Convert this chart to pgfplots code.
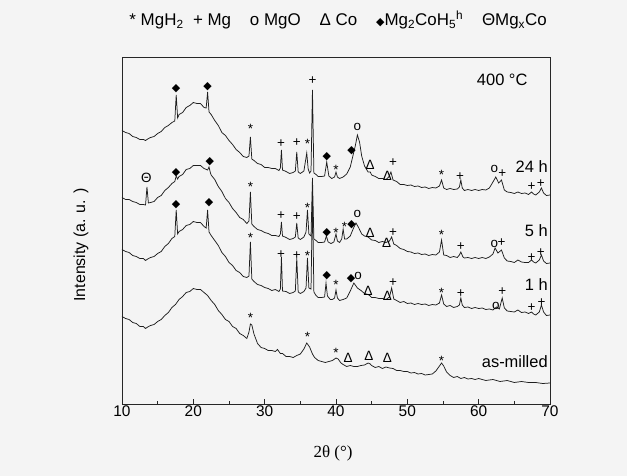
\documentclass[border=0pt]{standalone}
\usepackage{fontspec}
\setmainfont{Liberation Sans}
\newfontfamily\dejavu{DejaVu Sans}
\newfontfamily\serifx{Liberation Serif}
\usepackage{pgfplots}
\pgfplotsset{compat=1.18}
\definecolor{bg}{HTML}{F4F4F4}
\definecolor{ln}{HTML}{1E1E1E}
\newcommand\Dm{{\dejavu\fontsize{11}{11}\selectfont ◆}}
\begin{document}
\begin{tikzpicture}
\fill[bg] (-122bp,-72bp) rectangle (505bp,404bp);
\begin{axis}[
 scale only axis, width=428bp, height=347bp,
 xmin=10, xmax=70, ymin=0, ymax=347,
 axis line style={line width=0.9pt, color=black!85},
 xtick={10,20,...,70}, minor xtick={15,25,...,65},
 ytick=\empty, xtick pos=lower, tick align=inside,
 major tick length=5bp, minor tick length=3.5bp,
 every tick/.style={line width=0.9pt, black!85},
 clip=false,
 /pgf/number format/assume math mode=true,
 xticklabel style={font=\fontsize{15.5}{15.5}\selectfont, yshift=-2bp},
 xlabel={\serifx\fontsize{17}{17}\selectfont 2θ (°)},
 xlabel style={at={(axis description cs:0.493,-0.141)}, anchor=center},
 ylabel={\fontsize{16}{16}\selectfont Intensity (a. u. )},
 ylabel style={at={(axis description cs:-0.096,0.458)}, anchor=center, rotate=0},
 nodes={inner sep=0pt},
]
% as-milled
\addplot[ln, no markers, line width=0.75pt] coordinates {(10,87.5)(10.5,85.5)(11,84.5)(11.5,81.5)(12,80.5)(12.5,77.5)(13,77.5)(13.3,75.5)(13.6,77)(14,78.5)(14.5,79.5)(15,82.5)(15.5,84.5)(16,88.5)(16.5,91.5)(17,96.5)(17.5,99.5)(18,104.5)(18.5,107.5)(19,111.5)(19.5,112.5)(20,115.5)(20.5,114.5)(21,114.5)(21.5,111.5)(22,108.5)(22.5,103.5)(23,99.5)(23.5,93.5)(24,89.5)(24.5,84.5)(25,82.5)(25.5,77.5)(26,75.5)(26.5,70.5)(27,68.5)(27.5,65.5)(27.8,72)(28,80)(28.2,79)(28.5,70)(29,60.5)(29.5,56.5)(30,55.5)(30.5,53.5)(31,53.5)(31.5,52.5)(31.8,54.5)(32.2,50.5)(32.5,50.5)(33,47.5)(33.5,47.5)(34,46.5)(34.5,48.5)(35,50)(35.5,55)(35.9,61)(36.3,57)(36.7,50)(37,46.5)(37.5,43.5)(38,42.5)(38.5,41.5)(39,42.5)(39.5,43.5)(40,46)(40.3,45)(40.7,41)(41,39.5)(41.5,37.5)(42,38.5)(42.5,37.5)(43,37.5)(43.5,38.5)(44,39)(44.5,41)(44.8,40)(45,38.5)(45.5,36.5)(46,37.5)(46.5,35.5)(47,37)(47.5,36)(48,35.5)(48.5,33.5)(49,33.5)(49.5,32.5)(50,32.5)(50.5,31)(51,31.5)(51.5,30)(52,30.5)(52.5,29)(53,29.5)(53.5,30)(54,33)(54.5,38)(54.8,41)(55.1,38)(55.5,32)(56,28.5)(56.5,26.5)(57,27.5)(57.5,25.5)(58,26.5)(58.5,25)(59,25.5)(59.5,24.5)(60,25.5)(61,23.5)(62,24.5)(63,22.5)(64,23.5)(65,21.5)(66,22.5)(67,21.5)(68,21.5)(69,20.5)(70,21)};
% 1 h
\addplot[ln, no markers, line width=0.75pt] coordinates {(10,154.5)(10.5,152.5)(11,151.5)(11.5,148.5)(12,147.5)(12.5,145.5)(13,145.5)(13.3,143.5)(13.6,145)(14,146.5)(14.5,147.5)(15,150.5)(15.5,152.5)(16,157.5)(16.5,160.5)(17,165.5)(17.4,167.5)(17.6,194)(17.8,170)(18,172.5)(18.5,174.5)(19,178.5)(19.5,179.5)(20,182.5)(20.5,181.5)(21,181.5)(21.5,177.5)(21.8,176)(22,194)(22.2,172)(22.5,168.5)(23,163.5)(23.5,158.5)(24,151.5)(24.5,147.5)(25,141.5)(25.5,138.5)(26,133.5)(26.5,131.5)(27,127.5)(27.5,126.5)(27.8,128)(28,162)(28.2,125)(28.5,122.5)(29,119.5)(29.5,118.5)(30,116.5)(30.5,115.5)(31,113.5)(31.5,114.5)(32,112.5)(32.2,115)(32.35,147)(32.5,113)(33,112.5)(33.5,110.5)(34,111.5)(34.3,113)(34.5,146)(34.7,112)(35,110.5)(35.5,112.5)(35.8,116)(36,146)(36.2,116)(36.5,115)(36.7,209)(36.9,112)(37.2,108.5)(37.5,106.5)(38,106.5)(38.4,107)(38.6,121)(38.8,108)(39.2,104.5)(39.5,104.5)(39.8,106)(40,114)(40.2,106)(40.5,103.5)(41,104.5)(41.5,106)(42,113)(42.5,121)(42.8,118)(43,116)(43.5,113.5)(44,110.5)(44.5,109.5)(44.8,108)(45,106.5)(45.5,106.5)(46,105.5)(46.5,105.5)(47,104.5)(47.5,107)(47.8,116)(48.1,105)(48.5,103.5)(49,101.5)(49.5,102.5)(50,100.5)(50.5,101)(51,99.5)(51.5,100.5)(52,99.5)(52.5,100)(53,98.5)(53.5,99.5)(54,99)(54.5,101)(54.8,109)(55.1,100)(55.5,97.5)(56,98.5)(56.5,96.5)(57,97.5)(57.3,99)(57.5,106)(57.7,99)(58,96.5)(58.5,97)(59,95.5)(59.5,96.5)(60,95.5)(60.5,96)(61,94.5)(61.5,95)(62,94)(62.5,97)(62.9,95)(63.3,106)(63.6,96)(64,93)(64.5,92.5)(65,92)(65.5,94)(66,91.5)(66.5,92)(67,90.5)(67.4,92)(67.7,90)(68,89)(68.5,92)(68.8,99)(69.1,92)(69.5,88.5)(70,89)};
% 5 h
\addplot[ln, no markers, line width=0.75pt] coordinates {(10,206.5)(10.5,204.5)(11,204.5)(11.5,202.5)(12,201.5)(12.5,199.5)(13,199.5)(13.3,199)(13.5,217)(13.7,201)(14,201.5)(14.5,202.5)(15,206.5)(15.5,208.5)(16,213.5)(16.5,216.5)(17,220.5)(17.4,222.5)(17.6,228)(17.8,225)(18,227.5)(18.5,229.5)(19,234.5)(19.5,235.5)(20,238.5)(20.5,238.5)(21,238.5)(21.5,235.5)(22,234)(22.2,237)(22.4,231)(22.5,229)(23,224.5)(23.5,217.5)(24,212.5)(24.5,205.5)(25,201.5)(25.5,195.5)(26,191.5)(26.5,186.5)(27,184.5)(27.5,180.5)(27.8,183)(28,212)(28.2,180)(28.5,177.5)(29,174.5)(29.5,173.5)(30,171.5)(30.5,170.5)(31,168.5)(31.5,168.5)(32,167.5)(32.2,170)(32.35,182)(32.5,168)(33,166.5)(33.5,164.5)(34,165.5)(34.3,167)(34.5,181)(34.7,166)(35,164.5)(35.5,167)(35.8,172)(36,194)(36.2,170)(36.5,168)(36.7,226)(36.9,165)(37.2,163.5)(37.5,161.5)(38,161.5)(38.4,162)(38.65,168)(38.9,162)(39.3,160.5)(39.7,162)(40,170)(40.2,163)(40.5,161.5)(40.8,165)(41,175)(41.2,165)(41.5,165)(42,168)(42.4,175)(42.8,181)(43.2,176)(43.6,170)(44,168)(44.5,167)(45,164)(45.5,163.5)(46,161.5)(46.5,162.5)(47,161.5)(47.5,163)(47.8,167)(48.1,160)(48.5,158.5)(49,155.5)(49.5,154.5)(50,152.5)(50.5,152)(51,150.5)(51.5,151)(52,149.5)(52.5,150)(53,148.5)(53.5,149.5)(54,149)(54.5,152)(54.8,164)(55.1,149)(55.5,148.5)(56,146.5)(56.5,147.5)(57,146.5)(57.3,149)(57.5,152)(57.8,147)(58,146)(58.5,146.5)(59,145.5)(59.5,146.5)(60,145.5)(60.5,146.5)(61,145.5)(61.5,147)(62,150)(62.3,156)(62.7,151)(63.2,154)(63.6,146)(64,143)(64.5,142.5)(65,141.5)(65.5,144)(66,142)(66.5,141.5)(67,141.5)(67.4,144)(67.7,142)(68,141)(68.5,144)(68.8,149)(69.1,143)(69.5,140.5)(70,141)};
% 24 h
\addplot[ln, no markers, line width=0.75pt] coordinates {(10,273.5)(10.5,271.5)(11,270.5)(11.5,267.5)(12,266.5)(12.5,264.5)(13,264.5)(13.3,263.5)(13.6,265)(14,266.5)(14.5,267.5)(15,270.5)(15.5,272.5)(16,276.5)(16.5,278.5)(17,281.5)(17.4,283)(17.6,309)(17.8,286)(18,289.5)(18.5,291.5)(19,296.5)(19.5,298.5)(20,301.5)(20.5,300.5)(21,300.5)(21.5,296.5)(21.8,296)(22,312)(22.2,292)(22.5,289.5)(23,283.5)(23.5,278.5)(24,271.5)(24.5,268.5)(25,263.5)(25.5,259.5)(26,254.5)(26.5,251.5)(27,247.5)(27.5,246.5)(27.8,248)(28,267)(28.2,245)(28.5,243.5)(29,240.5)(29.5,239.5)(30,236.5)(30.5,236.5)(31,235.5)(31.5,235.5)(32,233.5)(32.2,236)(32.35,254)(32.5,234)(33,232.5)(33.5,230.5)(34,231.5)(34.3,233)(34.5,252)(34.7,232)(35,230.5)(35.5,233)(35.9,251)(36.1,235)(36.3,231)(36.5,233)(36.7,314)(36.9,231)(37.2,229.5)(37.5,227.5)(38,227.5)(38.4,228)(38.7,242)(39,228)(39.4,225.5)(39.8,227)(40,232)(40.2,227)(40.5,225.5)(41,227)(41.5,230)(42,237)(42.3,246)(42.7,258)(43,269)(43.3,262)(43.6,248)(44,238)(44.5,232)(44.8,232)(45,229)(45.5,227.5)(46,225.5)(46.5,225.5)(47,224.5)(47.4,227)(47.7,232)(48,224)(48.5,222.5)(49,219.5)(49.5,219.5)(50,218.5)(50.5,219)(51,217.5)(51.5,218)(52,216.5)(52.5,217)(53,215.5)(53.5,216.5)(54,216)(54.5,218)(54.8,224)(55.1,216)(55.5,214.5)(56,215.5)(56.5,214.5)(57,215)(57.3,217)(57.5,224)(57.7,216)(58,213.5)(58.5,214.5)(59,213.5)(59.5,214.5)(60,213.5)(60.5,214.5)(61,214)(61.5,216)(62,222)(62.4,227)(62.8,221)(63.2,224)(63.6,214)(64,212)(64.5,211.5)(65,210.5)(65.5,212)(66,210.5)(66.5,211)(67,209.5)(67.4,212)(67.7,210)(68,209)(68.5,212)(68.8,216)(69.1,211)(69.5,208.5)(70,209)};
% ---- annotations
\begin{scope}[every node/.style={font=\fontsize{13.5}{13.5}\selectfont, inner sep=0pt, anchor=center}]
% 24 h
\node at (axis cs:17.6,315) {\Dm};
\node at (axis cs:22.0,317) {\Dm};
\node at (axis cs:28.0,275) {*};
\node at (axis cs:32.3,260) {+};
\node at (axis cs:34.5,261) {+};
\node at (axis cs:36.0,260) {*};
\node at (axis cs:36.7,323) {+};
\node at (axis cs:38.7,247) {\Dm};
\node at (axis cs:40.0,234) {*};
\node at (axis cs:42.2,253) {\Dm};
\node at (axis cs:43.0,277) {o};
\node at (axis cs:44.8,239) {Δ};
\node at (axis cs:47.2,228) {Δ};
\node at (axis cs:48.0,241) {+};
\node at (axis cs:54.8,229) {*};
\node at (axis cs:57.4,227) {+};
\node at (axis cs:62.2,235) {o};
\node at (axis cs:63.3,230) {+};
\node at (axis cs:67.4,217) {+};
\node at (axis cs:68.7,220) {+};
% 5 h
\node at (axis cs:13.4,226) {Θ};
\node at (axis cs:17.6,231) {\Dm};
\node at (axis cs:22.3,242) {\Dm};
\node at (axis cs:28.0,217) {*};
\node at (axis cs:32.3,188) {+};
\node at (axis cs:34.5,187) {+};
\node at (axis cs:36.0,196) {*};
\node at (axis cs:38.7,171) {\Dm};
\node at (axis cs:40.0,171) {*};
\node at (axis cs:41.2,177) {*};
\node at (axis cs:42.2,179) {\Dm};
\node at (axis cs:43.0,190) {o};
\node at (axis cs:44.8,171) {Δ};
\node at (axis cs:47.1,161) {Δ};
\node at (axis cs:48.0,171) {+};
\node at (axis cs:54.8,169) {*};
\node at (axis cs:57.5,157) {+};
\node at (axis cs:62.2,160) {o};
\node at (axis cs:63.2,161) {+};
\node at (axis cs:67.4,146) {+};
\node at (axis cs:68.7,151) {+};
% 1 h
\node at (axis cs:17.6,199) {\Dm};
\node at (axis cs:22.2,201) {\Dm};
\node at (axis cs:28.0,166) {*};
\node at (axis cs:32.3,149) {+};
\node at (axis cs:34.5,148) {+};
\node at (axis cs:36.0,148) {*};
\node at (axis cs:38.7,128) {\Dm};
\node at (axis cs:40.0,119) {*};
\node at (axis cs:42.1,125) {\Dm};
\node at (axis cs:43.1,128) {o};
\node at (axis cs:44.5,113) {Δ};
\node at (axis cs:47.2,108) {Δ};
\node at (axis cs:48.0,121) {+};
\node at (axis cs:54.8,111) {*};
\node at (axis cs:57.5,110) {+};
\node at (axis cs:62.4,98) {o};
\node at (axis cs:63.3,112) {+};
\node at (axis cs:67.4,96) {+};
\node at (axis cs:68.8,101) {+};
% as-milled
\node at (axis cs:28.0,86) {*};
\node at (axis cs:36.0,67) {*};
\node at (axis cs:40.0,51) {*};
\node at (axis cs:41.7,46) {Δ};
\node at (axis cs:44.6,48) {Δ};
\node at (axis cs:47.2,46) {Δ};
\node at (axis cs:54.8,43) {*};
\end{scope}
\begin{scope}[every node/.style={font=\fontsize{16.5}{16.5}\selectfont, inner sep=0pt}]
\node[anchor=east] at (axis cs:69.7,237) {24 h};
\node[anchor=east] at (axis cs:69.7,173) {5 h};
\node[anchor=east] at (axis cs:69.7,119) {1 h};
\node[anchor=east] at (axis cs:69.7,42) {as-milled};
\node[anchor=center] at (axis cs:63.3,324) {400 °C};
\end{scope}
\node[font=\fontsize{17}{17}\selectfont, anchor=center, inner sep=0pt] at (axis cs:40.3,384)
 {* MgH\textsubscript{2}\ \ + Mg\ \ \ \ o MgO\ \ \ \ Δ Co\ \ \ \ \Dm Mg\textsubscript{2}CoH\textsubscript{5}\textsuperscript{h}\ \ \ \ ΘMg\textsubscript{x}Co};
\end{axis}
\end{tikzpicture}
\end{document}
